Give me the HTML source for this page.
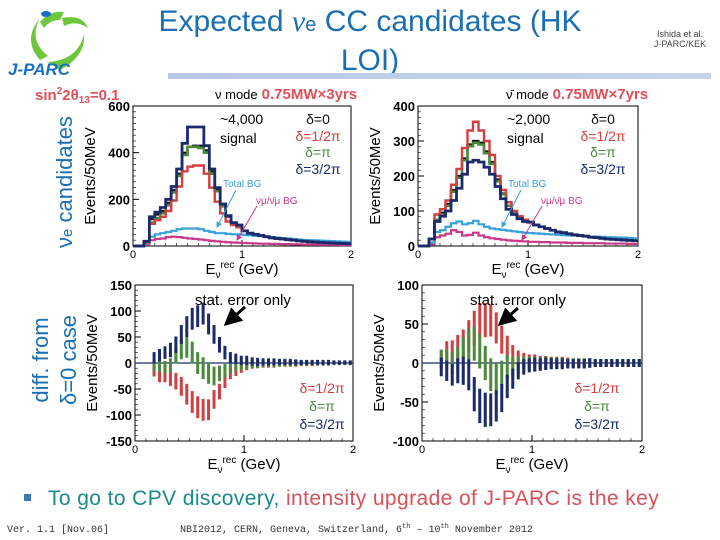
<!DOCTYPE html>
<html><head><meta charset="utf-8"><style>
body{margin:0;background:#fff;}
svg{display:block;font-family:"Liberation Sans",sans-serif;}
</style></head><body>
<svg id="s" width="720" height="540" viewBox="0 0 720 540" xmlns="http://www.w3.org/2000/svg">
<defs>
<linearGradient id="bar" x1="0" x2="1"><stop offset="0" stop-color="#b8c8e6"/><stop offset="1" stop-color="#c6d4ec"/></linearGradient>
<marker id="ah" markerWidth="6" markerHeight="6" refX="5" refY="3" orient="auto"><path d="M0,0 L6,3 L0,6 z" fill="context-stroke"/></marker>
</defs>
<g>
<path d="M40,60 Q22,40 40,18 Q28,40 48,56 Z" fill="#6cc83a"/>
<path d="M48,62 Q78,60 84,34 Q86,56 60,70 Z" fill="#6cc83a"/>
<path d="M62,18 Q82,14 88,28 Q76,20 64,26 Z" fill="#6cc83a"/>
<path d="M40,22 Q50,10 64,12 L60,20 Q50,20 44,28 Z" fill="#6cc83a"/>
<ellipse cx="46" cy="14" rx="5" ry="3" fill="#1a6fc0"/>
<text x="8" y="75" font-size="17" font-weight="bold" font-style="italic" fill="#1a6fc0">J-PARC</text>
</g>
<text x="370" y="31" text-anchor="middle" font-size="30" fill="#1a6fb4">Expected <tspan font-family="Liberation Serif" font-style="italic">ν</tspan><tspan font-size="20">e</tspan> CC candidates (HK</text>
<text x="370" y="70" text-anchor="middle" font-size="30" fill="#1a6fb4">LOI)</text>
<rect x="168" y="73" width="543" height="6" fill="url(#bar)"/>
<text x="680" y="37" text-anchor="middle" font-size="9" fill="#444">Ishida et al.</text>
<text x="680" y="47" text-anchor="middle" font-size="9" fill="#444">J-PARC/KEK</text>
<text x="35" y="100" font-size="15" font-weight="bold" fill="#e0505a">sin<tspan font-size="10" dy="-6">2</tspan><tspan dy="6">2θ</tspan><tspan font-size="10" dy="3">13</tspan><tspan dy="-3">=0.1</tspan></text>
<text x="215" y="99" font-size="13" fill="#000">ν mode<tspan font-size="15" font-weight="bold" fill="#e0505a" dx="4">0.75MW×3yrs</tspan></text>
<text x="506" y="99" font-size="13" fill="#000">ν̄ mode<tspan font-size="15" font-weight="bold" fill="#e0505a" dx="4">0.75MW×7yrs</tspan></text>
<text transform="translate(72,182) rotate(-90)" text-anchor="middle" font-size="22" fill="#1a6fb4">ν<tspan font-size="15">e</tspan> candidates</text>
<text transform="translate(48,360) rotate(-90)" text-anchor="middle" font-size="22" fill="#1a6fb4">diff. from</text>
<text transform="translate(76,360) rotate(-90)" text-anchor="middle" font-size="22" fill="#1a6fb4">δ=0 case</text>
<g id="charts"></g>
<rect x="24" y="494" width="7" height="7" fill="#3a7ab0"/>
<text x="48" y="505" font-size="21" letter-spacing="0.4" fill="#1a8a8a">To go to CPV discovery, <tspan fill="#d9505a">intensity upgrade of J-PARC is the key</tspan></text>
<text x="7" y="532" font-size="10" font-family="Liberation Mono" fill="#333">Ver. 1.1 [Nov.06]</text>
<text x="180" y="532" font-size="10" font-family="Liberation Mono" fill="#333">NBI2012, CERN, Geneva, Switzerland, 6<tspan font-size="7" dy="-4">th</tspan><tspan dy="4"> – 10</tspan><tspan font-size="7" dy="-4">th</tspan><tspan dy="4"> November 2012</tspan></text>
</svg>
<script>
const NS="http://www.w3.org/2000/svg";
const binEdges=[0,0.05,0.1,0.15,0.2,0.25,0.3,0.35,0.4,0.45,0.5,0.55,0.6,0.65,0.7,0.75,0.8,0.85,0.9,0.95,1.0,1.05,1.1,1.15,1.2,1.25,1.3,1.35,1.4,1.45,1.5,1.55,1.6,1.65,1.7,1.75,1.8,1.85,1.9,1.95];
const tail=[65,55,50,45,40,35,32,30,27,25,22,20,18,17,15,14,13,12,11,10];
// nu mode histograms
const nuD0=[0,0,18,115,135,150,185,240,310,400,425,430,430,410,320,240,175,125,100,85].concat(tail);
const nuD90=[0,0,15,95,110,125,150,195,255,320,340,345,345,310,250,190,140,105,90,80].concat(tail);
const nuD180=[0,0,15,100,120,140,175,230,300,390,425,425,420,400,310,235,170,125,95,85].concat(tail);
const nuD270=[0,0,20,125,145,165,200,255,330,440,510,510,510,430,330,250,180,130,100,90].concat(tail);
const nuTotBG=[0,0,10,40,50,55,60,65,72,75,75,75,72,65,60,55,55,52,50,50,48,46,44,42,40,38,36,34,32,30,28,26,25,24,23,22,21,20,19,18];
const nuMuBG=[0,0,5,25,30,32,38,40,38,35,32,30,28,25,22,20,18,16,15,14,13,12,11,10,10,9,9,8,8,7,7,6,6,6,5,5,5,5,4,4];
// antinu mode
const tail2=[68,60,55,50,45,40,38,35,32,30,28,25,24,22,20,19,18,17,16,15];
const anD0=[0,0,20,75,95,120,160,200,250,290,300,295,270,240,190,150,115,95,80,72].concat(tail2);
const anD90=[0,0,20,90,105,130,175,220,280,330,355,330,300,260,200,160,125,100,85,75].concat(tail2);
const anD180=[0,0,20,75,90,115,155,195,245,285,295,290,265,235,185,148,115,95,80,72].concat(tail2);
const anD270=[0,0,20,70,85,100,130,165,205,240,245,240,225,205,170,135,105,90,78,70].concat(tail2);
const anTotBG=[0,0,10,40,45,55,65,70,62,65,72,62,55,50,48,46,44,42,40,38,37,36,35,34,33,32,31,30,30,29,28,27,27,26,25,25,24,24,23,22];
const anMuBG=[0,0,5,25,30,35,45,40,30,32,38,30,25,22,20,18,16,15,14,13,12,12,11,11,10,10,10,9,9,9,8,8,8,8,7,7,7,7,6,6];
// difference plots (bins from 0.15 GeV)
const diffCenters=[0.175,0.225,0.275,0.325,0.375,0.425,0.475,0.525,0.575,0.625,0.675,0.725,0.775,0.825,0.875,0.925,0.975,1.025,1.075,1.125,1.175,1.225,1.275,1.325,1.375,1.425,1.475,1.525,1.575,1.625,1.675,1.725,1.775,1.825,1.875,1.925,1.975];
const nuDiff270=[10,15,20,25,35,55,70,85,90,95,75,55,35,20,10,8,5,5,3,2,2,2,2,2,2,2,1,1,1,1,1,1,1,1,1,1,1];
const nuDiff180=[-5,-5,-8,-5,15,25,30,20,0,-10,-20,-25,-20,-15,-10,-5,-5,-3,-2,-2,-1,-1,-1,-1,-1,-1,0,0,0,0,0,0,0,0,0,0,0];
const nuDiff90=[-15,-25,-25,-30,-35,-45,-60,-75,-85,-90,-90,-70,-55,-35,-20,-15,-10,-5,-3,-2,-2,-2,-2,-1,-1,-1,-1,-1,-1,-1,0,0,0,0,0,0,0];
const nuErr=[11,12,12,14,16,18,20,21,21,21,20,18,15,13,11,10,9,9,8,8,7,7,7,6,6,6,6,5,5,5,5,5,5,4,4,4,4];
const anDiff90=[5,15,15,20,25,35,45,55,55,55,45,30,20,10,5,3,2,2,1,1,1,1,1,1,0,0,0,0,0,0,0,0,0,0,0,0,0];
const anDiff180=[5,5,0,5,15,25,25,15,0,-15,-20,-15,-5,-5,-3,-2,-1,-1,-1,0,0,0,0,0,0,0,0,0,0,0,0,0,0,0,0,0,0];
const anDiff270=[-5,-10,-15,-10,-10,-15,-40,-55,-60,-60,-55,-45,-30,-20,-10,-5,-3,-2,-2,-1,-1,-1,-1,-1,-1,-1,-1,0,0,0,0,0,0,0,0,0,0];
const anErr=[12,13,14,16,18,20,22,22,22,21,20,18,15,13,11,10,9,9,8,8,7,7,7,6,6,6,6,6,5,5,5,5,5,5,5,5,5];
const topTicksNu=[0,200,400,600];
const topTicksAn=[0,100,200,300,400];
const botTicksNu=[-150,-100,-50,0,50,100,150];
const botTicksAn=[-100,-50,0,50,100];
const xTicks=[0,1,2];

const root=document.getElementById('charts');
function el(tag,attrs,parent,text){const e=document.createElementNS(NS,tag);for(const k in attrs)e.setAttribute(k,attrs[k]);if(text!==undefined)e.textContent=text;(parent||root).appendChild(e);return e;}

function axes(g,x0,x1,y0,y1,ymin,ymax,yt,name,minorStep){
  const sx=v=>x0+(v-0)/2*(x1-x0);
  const sy=v=>y1-(v-ymin)/(ymax-ymin)*(y1-y0);
  const fr=el('rect',{x:x0,y:y0,width:x1-x0,height:y1-y0,fill:'none',stroke:'#000','stroke-width':1},g);
  
  
  yt.forEach(v=>{
    const t=el('text',{x:x0-3,y:sy(v)+5,'text-anchor':'end','font-size':13,'font-weight':'bold'},g,String(v));
    
    
    el('line',{x1:x0,x2:x0+6,y1:sy(v),y2:sy(v),stroke:'#000'},g);
  });
  for(let v=ymin;v<=ymax;v+=minorStep){el('line',{x1:x0,x2:x0+3,y1:sy(v),y2:sy(v),stroke:'#000','stroke-width':0.6},g);}
  xTicks.forEach(v=>{
    const t=el('text',{x:sx(v),y:y1+12,'text-anchor':'middle','font-size':11},g,String(v));
    
    
    el('line',{x1:sx(v),x2:sx(v),y1:y1,y2:y1-6,stroke:'#000'},g);
  });
  for(let v=0.1;v<2;v+=0.1){el('line',{x1:sx(v),x2:sx(v),y1:y1,y2:y1-3,stroke:'#000','stroke-width':0.6},g);}
  const xl=el('text',{x:(x0+x1)/2,y:y1+28,'text-anchor':'middle','font-size':15},g);
  xl.innerHTML='E<tspan font-size="10" dy="4">ν</tspan><tspan font-size="10" dy="-10">rec</tspan><tspan dy="6"> (GeV)</tspan>';
  
  
  const yl=el('text',{transform:`translate(${x0-38},${(y0+y1)/2}) rotate(-90)`,'text-anchor':'middle','font-size':15},g,'Events/50MeV');
  
  
  return {sx,sy};
}
function hist(g,s,vals,color,w,name){
  let d='';
  vals.forEach((v,i)=>{const a=s.sx(binEdges[i]),b=s.sx(binEdges[i]+0.05),y=s.sy(v);d+=(i===0?`M${a},${y}`:`L${a},${y}`)+`L${b},${y}`;});
  const p=el('path',{d,fill:'none',stroke:color,'stroke-width':w},g);
  
  
}
function errs(g,s,vals,errv,color,name){
  vals.forEach((v,i)=>{
    const x=s.sx(diffCenters[i]);
    const r=el('rect',{x:x-1.5,y:s.sy(v+errv[i]),width:3,height:s.sy(v-errv[i])-s.sy(v+errv[i]),fill:color},g);
    
    
  });
}
function txt(g,x,y,t,c,fs,name,anchor){const e=el('text',{x,y,'font-size':fs,fill:c,'text-anchor':anchor||'start'},g,t);return e;}
function arrow(g,x1,y1,x2,y2,c,w,name){const e=el('line',{x1,y1,x2,y2,stroke:c,'stroke-width':w,'marker-end':'url(#ah)'},g);}

const C={d0:'#111',d90:'#d04040',d180:'#4a8a3a',d270:'#1a2a6a',bg:'#3aa0d8',mu:'#c83a8a'};

function topChart(name,x0,x1,ymax,yt,h,lab,lx,dx){
  const g=el('g',{});
  
  
  const s=axes(g,x0,x1,106,246,0,ymax,yt,name,ymax/24);
  hist(g,s,h[5],C.mu,2.2,'numu-bg-hist');
  hist(g,s,h[4],C.bg,2.2,'total-bg-hist');
  hist(g,s,h[0],C.d0,2.2,'delta0-hist');
  hist(g,s,h[2],C.d180,2.6,'delta-pi-hist');
  hist(g,s,h[1],C.d90,2.4,'delta-half-pi-hist');
  hist(g,s,h[3],C.d270,2.8,'delta-3half-pi-hist');
  txt(g,lx,124,lab,'#000',14,'signal-count');
  txt(g,lx,143,'signal','#000',14,'signal-label');
  txt(g,dx,124,'δ=0',C.d0,14,'legend-delta0','middle');
  txt(g,dx,141,'δ=1/2π',C.d90,14,'legend-delta-half-pi','middle');
  txt(g,dx,157,'δ=π',C.d180,14,'legend-delta-pi','middle');
  txt(g,dx,174,'δ=3/2π',C.d270,14,'legend-delta-3half-pi','middle');
  txt(g,x0+90,187,'Total BG',C.bg,10,'total-bg-label');
  arrow(g,x0+103,190,x0+84,227,C.bg,1,'total-bg-arrow');
  txt(g,x0+123,204,'νμ/ν̄μ BG',C.mu,10,'numu-bg-label');
  arrow(g,x0+124,206,x0+104,240,C.mu,1,'numu-bg-arrow');
}
function botChart(name,x0,x1,ymin,ymax,yt,series,err,sx0,lx,ax1,ax2){
  const g=el('g',{});
  
  
  const s=axes(g,x0,x1,285,441,ymin,ymax,yt,name,10);
  el('line',{x1:x0,x2:x1,y1:s.sy(0),y2:s.sy(0),stroke:'#1a2a6a','stroke-width':1.2},g);
  errs(g,s,series[0],err,C.d90,'error-bar-delta-half-pi');
  errs(g,s,series[1],err,C.d180,'error-bar-delta-pi');
  errs(g,s,series[2],err,C.d270,'error-bar-delta-3half-pi');
  const t=txt(g,sx0,305,'stat. error only','#000',15,'stat-error-label');
  const a=el('line',{x1:ax1[0],y1:ax1[1],x2:ax2[0],y2:ax2[1],stroke:'#000','stroke-width':3,'marker-end':'url(#ah)'},g);
  
  
  txt(g,lx,393,'δ=1/2π',C.d90,14,'legend-delta-half-pi','middle');
  txt(g,lx,411,'δ=π',C.d180,14,'legend-delta-pi','middle');
  txt(g,lx,429,'δ=3/2π',C.d270,14,'legend-delta-3half-pi','middle');
}
topChart('nu-mode-spectrum',133,351,600,topTicksNu,[nuD0,nuD90,nuD180,nuD270,nuTotBG,nuMuBG],'~4,000',220,318);
topChart('antinu-mode-spectrum',418,638,400,topTicksAn,[anD0,anD90,anD180,anD270,anTotBG,anMuBG],'~2,000',507,603);
botChart('nu-mode-difference',135,353,-150,150,botTicksNu,[nuDiff90,nuDiff180,nuDiff270],nuErr,195,322,[245,307],[226,324]);
botChart('antinu-mode-difference',422,642,-100,100,botTicksAn,[anDiff90,anDiff180,anDiff270],anErr,470,597,[518,308],[500,324]);
</script>
</body></html>
